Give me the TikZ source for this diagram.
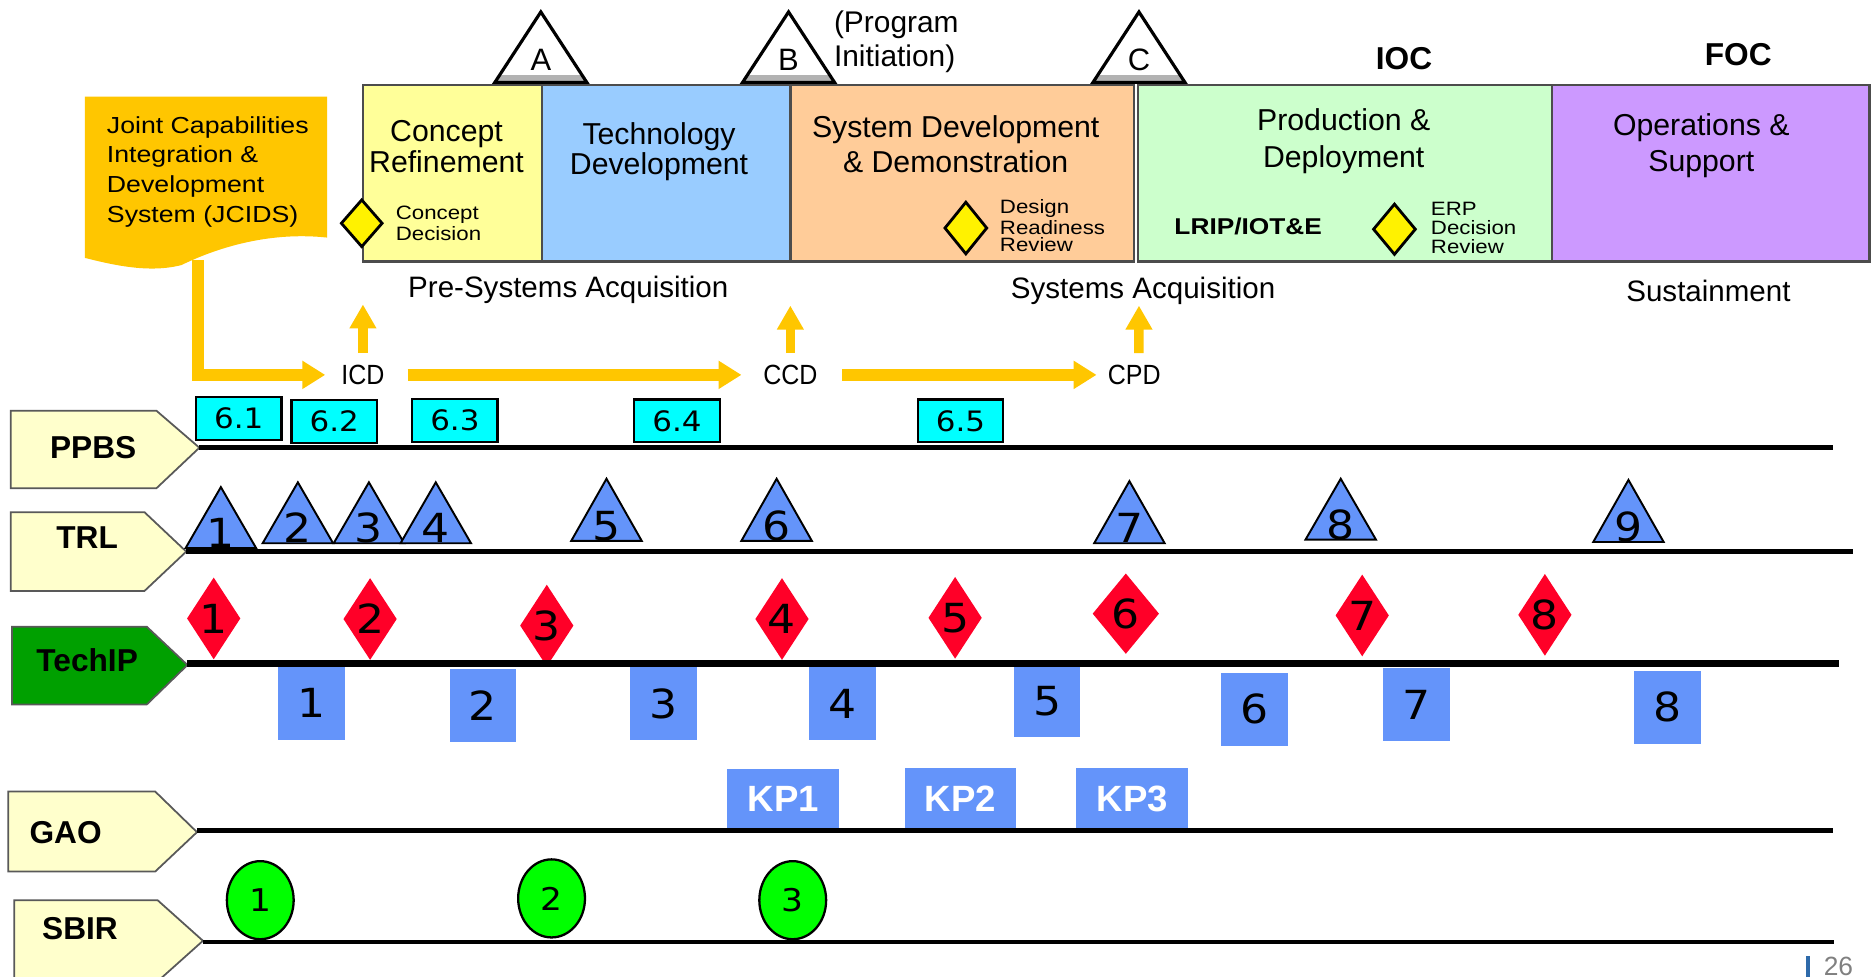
\documentclass[tikz,border=0pt]{standalone}
\usepackage{fontspec}
\setmainfont{Liberation Sans}
\newfontfamily\digitfont[FakeStretch=1.1]{DejaVu Sans}
\newfontfamily\widefont[FakeStretch=1.15]{Liberation Sans}
\newfontfamily\narrowfont[FakeStretch=0.9]{Liberation Sans}
\usetikzlibrary{shapes.geometric,arrows.meta,calc}

\definecolor{jcidsgold}{RGB}{255,198,0}
\definecolor{crfill}{RGB}{255,255,153}
\definecolor{tdfill}{RGB}{153,204,255}
\definecolor{sddfill}{RGB}{255,204,153}
\definecolor{pdfill}{RGB}{204,255,204}
\definecolor{osfill}{RGB}{204,153,255}
\definecolor{lanefill}{RGB}{255,255,204}
\definecolor{techgreen}{RGB}{0,160,0}
\definecolor{peri}{RGB}{100,148,250}
\definecolor{redmark}{RGB}{255,0,40}
\definecolor{sbirgreen}{RGB}{0,255,0}
\definecolor{boxcyan}{RGB}{0,255,255}
\definecolor{pagebar}{RGB}{46,106,170}

% milestone triangle with its shaded foot and letter
\newcommand\msmark[3]{%
  \fill[white] (#1,10) -- (#1+38.5,69) -- (#1-38.5,69) -- cycle;
  \fill[gray!60] (#1-34.6,63) -- (#1+34.6,63) -- (#1+38.5,69) -- (#1-38.5,69) -- cycle;
  \draw[line width=0.9pt, line join=miter] (#1,10) -- (#1+38.5,69) -- (#1-38.5,69) -- cycle;
  \node[font=\fontsize{8.8}{10}\selectfont, inner sep=0pt] (#3) at (#1,50.5) {#2};
}

\begin{document}
\begin{tikzpicture}[x=0.011939cm, y=-0.011939cm,
  phasebox/.style={draw=black!70, line width=0.7pt},
  phasetext/.style={align=center, inner sep=0pt},
  acqtext/.style={font=\fontsize{8.4}{10}\selectfont, inner sep=0pt},
  smalldia/.style={diamond, fill=yellow, draw=black, line width=0.8pt, inner sep=0pt},
  dialabel/.style={align=left, anchor=west, inner sep=0pt},
  goldarrow/.style={draw=jcidsgold, line width=3.4pt, line join=miter,
    -{Triangle[length=6.5pt,width=7.6pt]}},
  goldup/.style={draw=jcidsgold, line width=2.7pt,
    -{Triangle[length=6.8pt,width=7.2pt]}},
  cdlabel/.style={font=\narrowfont\fontsize{7.9}{9}\selectfont, inner sep=0pt},
  lanetag/.style={fill=lanefill, draw=black!65, line width=0.5pt},
  lanelabel/.style={font=\bfseries\fontsize{9}{10}\selectfont, inner sep=0pt},
  laneline/.style={line width=1.4pt},
  trltri/.style={fill=peri, draw=black, line width=0.55pt, line join=miter},
  digits/.style={font=\digitfont\fontsize{11.4}{12}\selectfont, inner sep=0pt},
  reddia/.style={diamond, fill=redmark, inner sep=0pt, minimum width=15.3pt, minimum height=23.4pt},
  techsq/.style={rectangle, fill=peri, inner sep=0pt, minimum width=19pt, minimum height=20.7pt,
    font=\digitfont\fontsize{11.4}{12}\selectfont},
  kpbox/.style={rectangle, fill=peri, inner sep=0pt, minimum width=31.8pt, minimum height=17.2pt,
    text=white, font=\bfseries\fontsize{10.4}{12}\selectfont},
  ppbsbox/.style={rectangle, fill=boxcyan, draw=black, line width=0.65pt, inner sep=0pt,
    minimum width=24.3pt, minimum height=12.2pt, font=\digitfont\fontsize{8}{9}\selectfont},
  sbircirc/.style={ellipse, fill=sbirgreen, draw=black, line width=0.65pt, inner sep=0pt,
    minimum width=19pt, minimum height=22.2pt, font=\digitfont\fontsize{8.9}{10}\selectfont}
]
\clip (0,0) rectangle (1568,818);
\fill[white] (0,0) rectangle (1568,818);

% ---------- acquisition phases ----------
\draw[phasebox, fill=crfill]  (304,71) rectangle (454,219);
\draw[phasebox, fill=tdfill]  (454,71) rectangle (662,219);
\draw[phasebox, fill=sddfill] (662,71) rectangle (950,219);
\draw[phasebox, fill=pdfill]  (953,71) rectangle (1300,219);
\draw[phasebox, fill=osfill]  (1300,71) rectangle (1566,219);

\node[phasetext, font=\fontsize{8.6}{8.8}\selectfont] (cr)  at (374,123)    {Concept\\Refinement};
\node[phasetext, font=\fontsize{8.6}{8.6}\selectfont] (td)  at (552,127)    {Technology\\Development};
\node[phasetext, font=\fontsize{8.6}{10}\selectfont]  (sdd) at (800.5,121)  {System Development\\\& Demonstration};
\node[phasetext, font=\fontsize{8.6}{10.5}\selectfont] (pd) at (1125.5,118) {Production \&\\Deployment};
\node[phasetext, font=\fontsize{8.6}{10.5}\selectfont] (os) at (1425,122)   {Operations \&\\Support};

% decision points inside the phases
\node[smalldia, minimum width=11.9pt, minimum height=13.6pt] (cd-dia)  at (303,187) {};
\node[dialabel, font=\widefont\fontsize{5.5}{5.1}\selectfont] (cd-t) at (331,187) {Concept\\Decision};
\node[smalldia, minimum width=12.2pt, minimum height=15pt] (drr-dia) at (809,191) {};
\node[dialabel, font=\widefont\fontsize{5.5}{4.8}\selectfont] (drr-t) at (837,189) {Design\\Readiness\\Review};
\node[smalldia, minimum width=12.2pt, minimum height=14.6pt] (erp-dia) at (1168,192) {};
\node[dialabel, font=\widefont\fontsize{5.5}{5.3}\selectfont] (erp-t) at (1198,191) {ERP\\Decision\\Review};
\node[font=\widefont\bfseries\fontsize{6.5}{8}\selectfont, inner sep=0pt] (lrip) at (1045.5,190) {LRIP/IOT\&E};

% milestones
\msmark{453}{A}{ms-a}
\msmark{660.5}{B}{ms-b}
\msmark{954}{C}{ms-c}
\node[align=left, anchor=west, inner sep=0pt, font=\fontsize{8.5}{9.5}\selectfont] (proginit) at (698,35) {(Program\\Initiation)};
\node[font=\bfseries\fontsize{9}{10}\selectfont, inner sep=0pt] (ioc) at (1176,49) {IOC};
\node[font=\bfseries\fontsize{9}{10}\selectfont, inner sep=0pt] (foc) at (1456,46) {FOC};

\node[acqtext] (presys)  at (476,243)   {Pre-Systems Acquisition};
\node[acqtext] (sysacq)  at (957.5,244) {Systems Acquisition};
\node[acqtext] (sustain) at (1431,244)  {Sustainment};

% ---------- JCIDS and capability documents ----------
\fill[jcidsgold] (71,81) -- (274,81) -- (274,199)
  .. controls (228,194) and (185,206) .. (152,222)
  .. controls (125,229) and (95,222) .. (71,216) -- cycle;
\node[font=\widefont\fontsize{6.6}{8.5}\selectfont, align=left, anchor=west, inner sep=0pt] (jcids)
  at (89,144) {Joint Capabilities\\Integration \&\\Development\\System (JCIDS)};
\coordinate (jcids-foot) at (165.5,218);

\node[cdlabel] (icd) at (304,314) {ICD};
\node[cdlabel] (ccd) at (662,314) {CCD};
\node[cdlabel] (cpd) at (950,314) {CPD};

\draw[goldarrow] (jcids-foot) |- ([xshift=-4.4pt]icd.west);
\draw[goldarrow] ([xshift=6.4pt]icd.east) -- ([xshift=-6pt]ccd.west);
\draw[goldarrow] ([xshift=6.8pt]ccd.east) -- ([xshift=-3pt]cpd.west);

\coordinate (icd-up) at (304,255);
\coordinate (ccd-up) at (662,256);
\coordinate (cpd-up) at (954,256);
\draw[goldup] ([yshift=3.2pt]icd.north) -- (icd-up);
\draw[goldup] ([yshift=3.2pt]ccd.north) -- (ccd-up);
\draw[goldup] ([xshift=1.36pt,yshift=3.2pt]cpd.north) -- (cpd-up);

% ---------- swim lane tags ----------
\draw[lanetag] (9,344) -- (131,344) -- (167,375) -- (131,409) -- (9,409) -- cycle;
\coordinate (ppbs-tip) at (167,375);
\node[lanelabel] (ppbs) at (78,375) {PPBS};

\draw[lanetag] (9,429) -- (121,429) -- (156,462) -- (121,495) -- (9,495) -- cycle;
\coordinate (trl-tip) at (156,462);
\node[lanelabel] (trl) at (73,450) {TRL};

\draw[lanetag, fill=techgreen] (10,525) -- (123,525) -- (157,557) -- (123,590) -- (10,590) -- cycle;
\coordinate (techip-tip) at (157,556);
\node[lanelabel] (techip) at (73,553) {TechIP};

\draw[lanetag] (7,663) -- (130,663) -- (165,697) -- (130,730) -- (7,730) -- cycle;
\coordinate (gao-tip) at (165,696);
\node[lanelabel] (gao) at (55,697) {GAO};

\draw[lanetag] (12,754) -- (132,754) -- (170,788) -- (132,822) -- (12,822) -- cycle;
\coordinate (sbir-tip) at (170,789);
\node[lanelabel] (sbir) at (67,778) {SBIR};

% ---------- PPBS items ----------
\node[ppbsbox] (p61) at (200,350.5) {6.1};
\node[ppbsbox] (p62) at (280,353)   {6.2};
\node[ppbsbox] (p63) at (381,352)   {6.3};
\node[ppbsbox] (p64) at (567,352.5) {6.4};
\node[ppbsbox] (p65) at (804.5,352.5) {6.5};

% ---------- TRL triangles ----------
\foreach \x/\ya/\yb/\n in {185/408/459/1, 249.5/404/455/2, 309/404/455/3, 365/404/455/4,
    508/401/453/5, 650.5/401/453/6, 946/403/455/7, 1123/401/452/8, 1364/402/454/9} {
  \draw[trltri] (\x-29.5,\yb) -- (\x,\ya) -- (\x+29.5,\yb) -- cycle;
  \node[digits, anchor=base] (trl-\n) at (\x,\yb-0.5) {\n};
}

% ---------- TechIP diamonds and squares ----------
\foreach \x/\y/\n in {179/518/1, 310/518.5/2, 458/524/3, 655/518.5/4, 800/517.5/5,
    1141/515.5/7, 1294/515/8} {
  \node[reddia] (rd-\n) at (\x,\y) {};
  \node[digits] (rd-\n-t) at (rd-\n) {\n};
}
\node[reddia, minimum width=19pt, minimum height=23pt] (rd-6) at (943,514) {};
\node[digits] (rd-6-t) at (rd-6) {6};

\foreach \x/\y/\n in {261/589/1, 404.5/591/2, 556/589.5/3, 705.5/589.5/4, 877/587/5,
    1051/594/6, 1186.5/590/7, 1396.5/592.5/8} {
  \node[techsq] (sq-\n) at (\x,\y) {\n};
}

% ---------- GAO key points ----------
\node[kpbox] (kp1) at (656,669.5) {KP1};
\node[kpbox] (kp2) at (804.5,669) {KP2};
\node[kpbox] (kp3) at (948.5,669) {KP3};

% ---------- SBIR phases ----------
\node[sbircirc] (sb1) at (218,754)   {1};
\node[sbircirc] (sb2) at (462,752.5) {2};
\node[sbircirc] (sb3) at (664,754)   {3};

% ---------- lane lines ----------
\coordinate (ppbs-end)   at (1535,375);
\coordinate (trl-end)    at (1552,462);
\coordinate (techip-end) at (1540,556);
\coordinate (gao-end)    at (1535,696);
\coordinate (sbir-end)   at (1536,789);
\draw[laneline] (ppbs-tip) -- (ppbs-end);
\draw[laneline] (trl-tip) -- (trl-end);
\draw[laneline, line width=2pt] (techip-tip) -- (techip-end);
\draw[laneline] (gao-tip) -- (gao-end);
\draw[laneline] (sbir-tip) -- (sbir-end);

% ---------- page number ----------
\fill[pagebar] (1513,801) rectangle (1516,818);
\node[text=gray, anchor=north west, inner sep=0pt, font=\fontsize{7.5}{9}\selectfont] (pageno) at (1527,801) {26};
\end{tikzpicture}
\end{document}
